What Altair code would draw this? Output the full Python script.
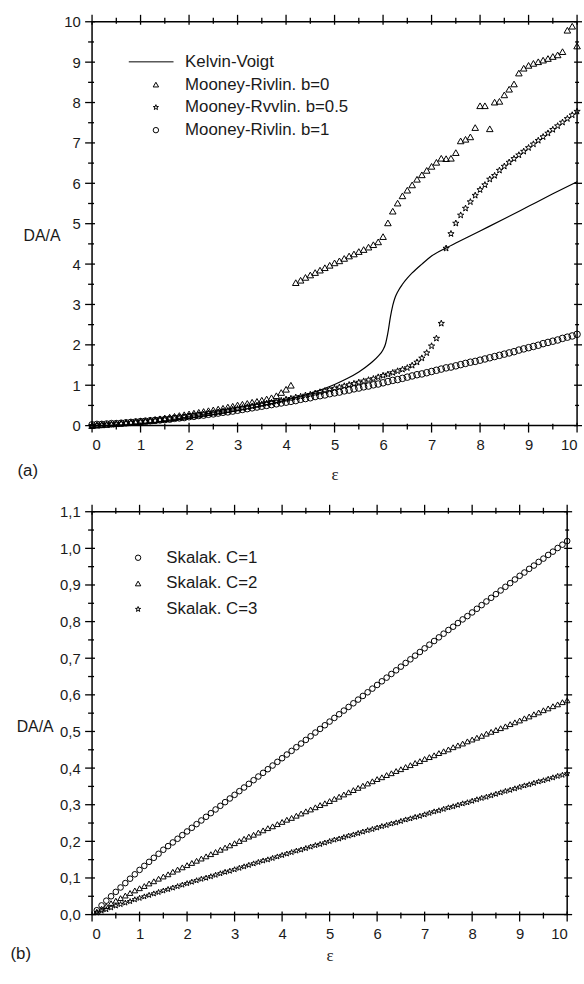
import altair as alt
import pandas as pd

# ---------------- panel (a) data ----------------
x_top = [round(i * 0.1, 1) for i in range(101)]

mr_b0 = [0.00, 0.01, 0.02, 0.03, 0.04, 0.05, 0.06, 0.07, 0.08, 0.10,
         0.11, 0.12, 0.14, 0.15, 0.17, 0.19, 0.21, 0.23, 0.25, 0.27,
         0.29, 0.31, 0.33, 0.35, 0.37, 0.39, 0.41, 0.43, 0.46, 0.48,
         0.51, 0.53, 0.55, 0.58, 0.60, 0.63, 0.66, 0.69, 0.74, 0.82,
         0.90, 1.00, 3.54, 3.60, 3.67, 3.73, 3.79, 3.85, 3.91, 3.97,
         4.03, 4.08, 4.14, 4.20, 4.25, 4.31, 4.36, 4.42, 4.48, 4.55,
         4.68, 5.02, 5.31, 5.51, 5.69, 5.83, 5.96, 6.10, 6.21, 6.32,
         6.42, 6.52, 6.62, 6.61, 6.62, 6.76, 7.05, 7.09, 7.15, 7.38,
         7.92, 7.92, 7.35, 8.01, 8.03, 8.19, 8.33, 8.46, 8.73, 8.85,
         8.92, 8.97, 9.01, 9.05, 9.09, 9.14, 9.18, 9.26, 9.79, 9.89,
         9.40]

mr_b05 = [0.00, 0.01, 0.02, 0.02, 0.03, 0.04, 0.05, 0.06, 0.07, 0.08,
          0.09, 0.10, 0.11, 0.12, 0.14, 0.15, 0.16, 0.18, 0.19, 0.21,
          0.23, 0.24, 0.26, 0.28, 0.30, 0.31, 0.33, 0.35, 0.37, 0.40,
          0.42, 0.44, 0.46, 0.48, 0.50, 0.53, 0.55, 0.57, 0.60, 0.62,
          0.65, 0.67, 0.70, 0.72, 0.75, 0.77, 0.80, 0.83, 0.86, 0.89,
          0.92, 0.95, 0.98, 1.01, 1.04, 1.07, 1.10, 1.13, 1.16, 1.20,
          1.24, 1.27, 1.31, 1.35, 1.39, 1.43, 1.49, 1.57, 1.67, 1.80,
          1.97, 2.16, 2.53, 4.39, 4.75, 5.01, 5.21, 5.38, 5.54, 5.70,
          5.84, 5.96, 6.10, 6.19, 6.32, 6.42, 6.52, 6.61, 6.70, 6.79,
          6.88, 6.97, 7.06, 7.15, 7.24, 7.33, 7.42, 7.51, 7.60, 7.69,
          7.78]

mr_b1 = [0.02, 0.03, 0.03, 0.04, 0.05, 0.05, 0.06, 0.07, 0.08, 0.09,
         0.10, 0.11, 0.12, 0.13, 0.14, 0.15, 0.16, 0.18, 0.19, 0.20,
         0.22, 0.23, 0.25, 0.26, 0.28, 0.29, 0.31, 0.33, 0.34, 0.36,
         0.38, 0.40, 0.42, 0.44, 0.46, 0.48, 0.50, 0.52, 0.54, 0.56,
         0.58, 0.60, 0.62, 0.65, 0.67, 0.69, 0.72, 0.74, 0.76, 0.79,
         0.81, 0.83, 0.86, 0.88, 0.91, 0.93, 0.96, 0.98, 1.01, 1.03,
         1.06, 1.09, 1.12, 1.14, 1.17, 1.20, 1.23, 1.26, 1.28, 1.31,
         1.34, 1.37, 1.40, 1.43, 1.45, 1.48, 1.51, 1.54, 1.57, 1.59,
         1.62, 1.65, 1.68, 1.71, 1.74, 1.77, 1.80, 1.83, 1.87, 1.90,
         1.93, 1.96, 1.99, 2.03, 2.06, 2.09, 2.12, 2.16, 2.19, 2.22,
         2.26]

kv_x = [0, 0.5, 1, 1.5, 2, 2.5, 3, 3.5, 4, 4.5,
        5, 5.25, 5.5, 5.75, 5.9, 6.0, 6.05, 6.1, 6.15, 6.2,
        6.25, 6.3, 6.4, 6.5, 6.6, 6.8, 7.0, 7.3, 7.5, 8.0,
        8.5, 9.0, 9.5, 10.0]
kv_y = [0, 0.01, 0.04, 0.10, 0.18, 0.27, 0.37, 0.49, 0.63, 0.80,
        1.02, 1.16, 1.33, 1.55, 1.72, 1.88, 2.02, 2.30, 2.68, 2.98,
        3.18, 3.31, 3.50, 3.65, 3.78, 4.00, 4.20, 4.40, 4.52, 4.82,
        5.12, 5.43, 5.74, 6.04]

top_names = ["Kelvin-Voigt", "Mooney-Rivlin. b=0", "Mooney-Rvvlin. b=0.5", "Mooney-Rivlin. b=1"]

# ---------------- panel (b) data ----------------
x_bot = [round(i * 0.1, 1) for i in range(1, 101)]

sk_c1 = [0.012, 0.025, 0.038, 0.050, 0.062, 0.074, 0.086, 0.098, 0.110, 0.122,
         0.133, 0.144, 0.155, 0.166, 0.177, 0.187, 0.197, 0.207, 0.217, 0.227,
         0.237, 0.247, 0.257, 0.267, 0.277, 0.287, 0.297, 0.307, 0.317, 0.327,
         0.337, 0.347, 0.357, 0.367, 0.377, 0.387, 0.397, 0.407, 0.417, 0.427,
         0.437, 0.447, 0.457, 0.467, 0.477, 0.487, 0.497, 0.507, 0.517, 0.527,
         0.537, 0.547, 0.557, 0.567, 0.577, 0.587, 0.597, 0.607, 0.617, 0.627,
         0.637, 0.647, 0.657, 0.667, 0.677, 0.687, 0.697, 0.707, 0.717, 0.727,
         0.737, 0.747, 0.757, 0.767, 0.777, 0.786, 0.796, 0.806, 0.815, 0.825,
         0.835, 0.845, 0.855, 0.865, 0.875, 0.885, 0.895, 0.905, 0.915, 0.925,
         0.934, 0.944, 0.953, 0.963, 0.972, 0.982, 0.991, 1.001, 1.010, 1.020]

sk_c2 = [0.008, 0.016, 0.023, 0.031, 0.038, 0.045, 0.052, 0.059, 0.066, 0.072,
         0.078, 0.085, 0.091, 0.098, 0.104, 0.110, 0.117, 0.123, 0.129, 0.135,
         0.141, 0.147, 0.153, 0.159, 0.165, 0.171, 0.177, 0.183, 0.189, 0.195,
         0.201, 0.207, 0.213, 0.218, 0.224, 0.230, 0.236, 0.241, 0.247, 0.253,
         0.259, 0.264, 0.270, 0.276, 0.282, 0.287, 0.293, 0.299, 0.304, 0.310,
         0.316, 0.322, 0.328, 0.334, 0.340, 0.346, 0.352, 0.358, 0.364, 0.370,
         0.375, 0.381, 0.386, 0.392, 0.397, 0.403, 0.408, 0.414, 0.419, 0.425,
         0.430, 0.435, 0.441, 0.446, 0.451, 0.457, 0.462, 0.467, 0.473, 0.478,
         0.483, 0.488, 0.494, 0.499, 0.504, 0.509, 0.514, 0.520, 0.525, 0.530,
         0.536, 0.541, 0.547, 0.552, 0.558, 0.563, 0.569, 0.574, 0.580, 0.585]

sk_c3 = [0.005, 0.010, 0.014, 0.019, 0.024, 0.028, 0.032, 0.036, 0.041, 0.045,
         0.049, 0.053, 0.057, 0.061, 0.065, 0.069, 0.073, 0.077, 0.081, 0.085,
         0.089, 0.093, 0.097, 0.100, 0.104, 0.108, 0.112, 0.116, 0.119, 0.123,
         0.127, 0.131, 0.135, 0.139, 0.143, 0.147, 0.150, 0.154, 0.158, 0.162,
         0.166, 0.170, 0.174, 0.177, 0.181, 0.185, 0.189, 0.192, 0.196, 0.200,
         0.204, 0.207, 0.211, 0.215, 0.218, 0.222, 0.226, 0.230, 0.233, 0.237,
         0.241, 0.244, 0.248, 0.251, 0.255, 0.259, 0.262, 0.266, 0.269, 0.273,
         0.277, 0.281, 0.284, 0.288, 0.292, 0.295, 0.299, 0.303, 0.306, 0.310,
         0.314, 0.318, 0.321, 0.325, 0.329, 0.333, 0.337, 0.340, 0.344, 0.348,
         0.352, 0.355, 0.359, 0.363, 0.366, 0.370, 0.374, 0.378, 0.381, 0.385]

bot_names = ["Skalak. C=1", "Skalak. C=2", "Skalak. C=3"]

# axis tick values
x_major = list(range(11))
x_minor = [i + 0.5 for i in range(10)]
ya_major = list(range(11))
ya_minor = [i + 0.5 for i in range(10)]
yb_major = [round(i * 0.1, 1) for i in range(12)]
yb_minor = [round(i * 0.1 + 0.05, 2) for i in range(11)]

# ---------------- helpers ----------------
FONT = "Liberation Sans"
INK = "#1a1a1a"
LINE_PATH = "M-10,0L6.5,0"
STAR_PATH = ("M0,-1L0.235,-0.324L0.951,-0.309L0.380,0.124L0.588,0.809L0,0.4"
             "L-0.588,0.809L-0.380,0.124L-0.951,-0.309L-0.235,-0.324Z")


def tick_layers(xmaj, xmin, ymaj, ymin, W, H, xenc, yenc):
    layers = []
    for vals, out_len, in_len in [(xmaj, 7, 3), (xmin, 4, 2)]:
        d = pd.DataFrame({"v": vals})
        base = alt.Chart(d).mark_rule(color="black", strokeWidth=1.3)
        layers.append(base.encode(x=xenc("v"), y=alt.value(H - in_len), y2=alt.value(H + out_len)))
        layers.append(base.encode(x=xenc("v"), y=alt.value(-out_len), y2=alt.value(in_len)))
    for vals, out_len, in_len in [(ymaj, 7, 3), (ymin, 4, 2)]:
        d = pd.DataFrame({"v": vals})
        base = alt.Chart(d).mark_rule(color="black", strokeWidth=1.3)
        layers.append(base.encode(y=yenc("v"), x=alt.value(-out_len), x2=alt.value(in_len)))
        layers.append(base.encode(y=yenc("v"), x=alt.value(W - in_len), x2=alt.value(W + out_len - 2)))
    return layers


def make_x(domain, title_pad):
    def enc(field):
        return alt.X(f"{field}:Q", scale=alt.Scale(domain=domain, nice=False, zero=False),
                     axis=alt.Axis(values=x_major, ticks=False, domain=False, grid=False,
                                   labelPadding=12, labelFontSize=15, labelFont=FONT, labelColor=INK,
                                   title="ε", titleFont="Liberation Serif", titleFontSize=17,
                                   titleFontWeight="normal", titleColor=INK, titlePadding=title_pad))
    return enc


def make_y(domain, values, title_x, title_y, label_expr=None):
    extra = {"labelExpr": label_expr} if label_expr else {}

    def enc(field):
        return alt.Y(f"{field}:Q", scale=alt.Scale(domain=domain, nice=False, zero=False),
                     axis=alt.Axis(values=values, ticks=False, domain=False, grid=False,
                                   labelPadding=12, labelFontSize=15, labelFont=FONT, labelColor=INK,
                                   title="DA/A", titleAngle=0, titleX=title_x, titleY=title_y,
                                   titleAlign="center", titleBaseline="middle", titleFont=FONT,
                                   titleFontSize=16, titleFontWeight="normal", titleColor=INK,
                                   **extra))
    return enc


# ---------------- panel (a) ----------------
W1, H1 = 490, 408
rows = []
for name, ys in zip(top_names[1:], [mr_b0, mr_b05, mr_b1]):
    for xv, yv in zip(x_top, ys):
        rows.append({"x": xv, "y": yv, "series": name})
top_df = pd.DataFrame(rows)
kv_df = pd.DataFrame({"x": kv_x, "y": kv_y})

xa = make_x([0, 10], 14)
ya = make_y([0, 10], ya_major, -51, 216)

top_points = alt.Chart(top_df).mark_point(filled=False, color="black", strokeWidth=1.0,
                                          opacity=1, size=44).encode(
    x=xa("x"), y=ya("y"),
    shape=alt.Shape("series:N", scale=alt.Scale(domain=top_names,
                    range=[LINE_PATH, "triangle-up", STAR_PATH, "circle"]),
                    legend=alt.Legend(title=None, orient="none", legendX=56, legendY=32,
                                      labelFontSize=17, labelFont=FONT, labelColor=INK, labelLimit=0,
                                      symbolSize=30, symbolStrokeWidth=1, symbolStrokeColor="black",
                                      symbolFillColor="transparent", rowPadding=5, labelOffset=21,
                                      padding=0)),
)

top_line = alt.Chart(kv_df).mark_line(color="black", strokeWidth=1.2, interpolate="monotone").encode(
    x=xa("x"), y=ya("y"),
)

label_a = alt.Chart(pd.DataFrame({"t": ["(a)"]})).mark_text(
    font=FONT, fontSize=17, color=INK, align="center", baseline="middle").encode(
    x=alt.value(-65), y=alt.value(H1 + 46), text="t:N")

top = alt.layer(top_points, top_line, label_a,
                *tick_layers(x_major, x_minor, ya_major, ya_minor, W1, H1, xa, ya)
                ).properties(width=W1, height=H1)

# ---------------- panel (b) ----------------
W2, H2 = 480, 407
rows = []
for name, ys in zip(bot_names, [sk_c1, sk_c2, sk_c3]):
    for xv, yv in zip(x_bot, ys):
        rows.append({"x": xv, "y": yv, "series": name})
bot_df = pd.DataFrame(rows)

xb = make_x([0, 10], 6)
yb = make_y([0, 1.1], yb_major, -58, 217, "replace(format(datum.value, '.1f'), '.', ',')")

bot_points = alt.Chart(bot_df).mark_point(filled=False, color="black", strokeWidth=1.0,
                                          opacity=1, size=32).encode(
    x=xb("x"), y=yb("y"),
    shape=alt.Shape("series:N", scale=alt.Scale(domain=bot_names,
                    range=["circle", "triangle-up", STAR_PATH]),
                    legend=alt.Legend(title=None, orient="none", legendX=38, legendY=38,
                                      labelFontSize=17, labelFont=FONT, labelColor=INK, labelLimit=0,
                                      symbolSize=30, symbolStrokeWidth=1, symbolStrokeColor="black",
                                      symbolFillColor="transparent", rowPadding=8, labelOffset=20,
                                      padding=0)),
)

label_b = alt.Chart(pd.DataFrame({"t": ["(b)"]})).mark_text(
    font=FONT, fontSize=17, color=INK, align="center", baseline="middle").encode(
    x=alt.value(-72), y=alt.value(H2 + 40), text="t:N")

bottom = alt.layer(bot_points, label_b,
                   *tick_layers(x_major, x_minor, yb_major, yb_minor, W2, H2, xb, yb)
                   ).properties(width=W2, height=H2)

chart = alt.concat(top, bottom, columns=1, spacing=20, align="none").properties(
    padding={"left": 9, "top": 8, "right": 0, "bottom": 2}
).configure_view(stroke="black", strokeWidth=1.5).resolve_scale(shape="independent")

chart.save("out.html", embed_options={"renderer": "svg", "actions": False})
